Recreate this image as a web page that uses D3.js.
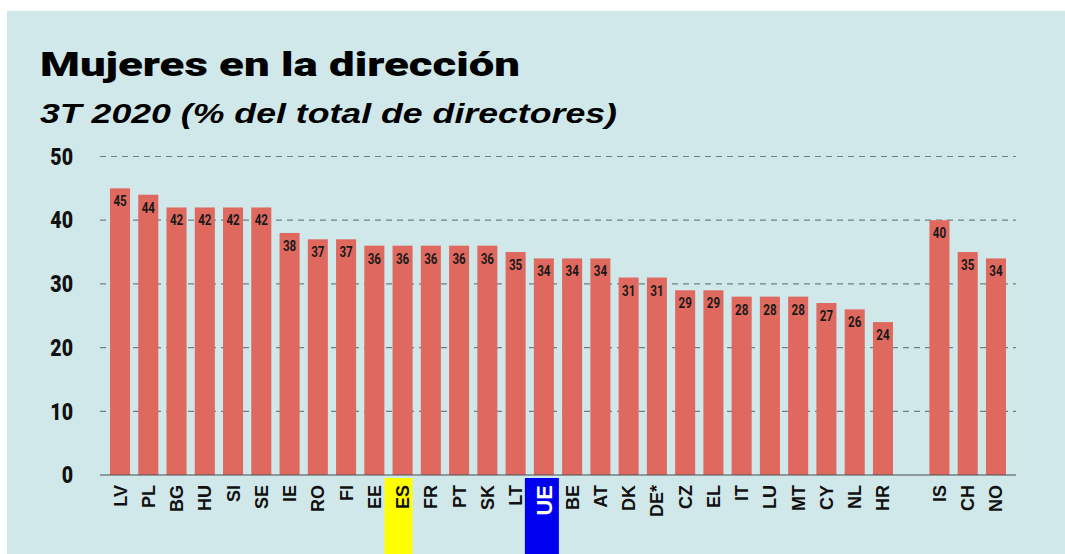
<!DOCTYPE html>
<html>
<head>
<meta charset="utf-8">
<script src="https://cdn.jsdelivr.net/npm/d3@7"></script>
<style>
  html, body { margin: 0; padding: 0; background: #fff; }
  svg { display: block; }
</style>
</head>
<body>
<svg id="chart" width="1065" height="554"></svg>
<script>
  // datos
  const countries = ["LV","PL","BG","HU","SI","SE","IE","RO","FI","EE","ES","FR","PT","SK","LT","UE",
                     "BE","AT","DK","DE*","CZ","EL","IT","LU","MT","CY","NL","HR","","IS","CH","NO"]
  const values = [45,44,42,42,42,42,38,37,37,36,36,36,36,36,35,34,
                  34,34,31,31,29,29,28,28,28,27,26,24,null,40,35,34]
  const yTicks = [0,10,20,30,40,50]
  const highlights = { "ES": "#ffff00", "UE": "#0000f0" }

  const title = "Mujeres en la dirección"
  const subtitle = "3T 2020 (% del total de directores)"

  const width = 1065, height = 554
  const margin = { top: 156.5, right: 49, bottom: 79, left: 100 }
  const innerWidth = width - margin.left - margin.right
  const innerHeight = height - margin.top - margin.bottom

  const narrow = "Roboto, 'DejaVu Sans', sans-serif"
  const arial = "'Liberation Sans', Arial, sans-serif"

  const svg = d3.select("#chart")

  svg.append("rect")
     .attr("x", 7).attr("y", 11)
     .attr("width", width - 7).attr("height", height - 11)
     .attr("fill", "#d1e8ea")

  svg.append("text")
     .attr("x", 40).attr("y", 76)
     .attr("font-family", narrow)
     .attr("font-weight", 900)
     .attr("font-size", 34)
     .attr("textLength", 480)
     .attr("lengthAdjust", "spacingAndGlyphs")
     .attr("fill", "#000")
     .text(title)

  svg.append("text")
     .attr("x", 40).attr("y", 123)
     .attr("font-family", arial)
     .attr("font-weight", "bold")
     .attr("font-style", "italic")
     .attr("font-size", 28)
     .attr("textLength", 577)
     .attr("lengthAdjust", "spacingAndGlyphs")
     .attr("fill", "#000")
     .text(subtitle)

  let xScale = d3.scaleBand().domain(countries).range([0, innerWidth])
                 .paddingInner(0.29).paddingOuter(0.354)
  let yScale = d3.scaleLinear().domain([0, 50]).range([innerHeight, 0])

  const g = svg.append("g").attr("transform", `translate(${margin.left}, ${margin.top})`)

  // fondos destacados bajo las etiquetas
  const hl = countries.filter(c => highlights[c])
  g.selectAll("rect.hl").data(hl).join("rect")
   .attr("class", "hl")
   .attr("x", c => xScale(c) + xScale.bandwidth() / 2 - (c == "UE" ? 19 : 18))
   .attr("y", innerHeight + 3)
   .attr("width", c => c == "UE" ? 34 : 28)
   .attr("height", height - margin.top - innerHeight - 3)
   .attr("fill", c => highlights[c])

  // rejilla
  g.selectAll("line.grid").data(yTicks.filter(d => d > 0)).join("line")
   .attr("class", "grid")
   .attr("x1", 0).attr("x2", innerWidth)
   .attr("y1", d => yScale(d)).attr("y2", d => yScale(d))
   .attr("stroke", "#6e7f84")
   .attr("stroke-width", 1.2)
   .attr("stroke-dasharray", "6,5")

  g.selectAll("text.ytick").data(yTicks).join("text")
   .attr("class", "ytick")
   .attr("transform", d => `translate(-27, ${yScale(d)}) scale(0.85, 1)`)
   .attr("text-anchor", "end")
   .attr("dy", "0.36em")
   .attr("font-family", narrow)
   .attr("font-weight", 900)
   .attr("font-size", 23)
   .attr("fill", "#111")
   .text(d => d)

  const data = countries.map((c, i) => ({ c: c, v: values[i] })).filter(d => d.v != null)

  g.selectAll("rect.bar").data(data).join("rect")
   .attr("class", "bar")
   .attr("x", d => xScale(d.c))
   .attr("y", d => yScale(d.v))
   .attr("width", xScale.bandwidth())
   .attr("height", d => innerHeight - yScale(d.v))
   .attr("fill", "#e0695f")

  g.selectAll("text.val").data(data).join("text")
   .attr("class", "val")
   .attr("transform", d => `translate(${xScale(d.c) + xScale.bandwidth() / 2}, ${yScale(d.v) + 18}) scale(0.8, 1)`)
   .attr("text-anchor", "middle")
   .attr("font-family", narrow)
   .attr("font-weight", "bold")
   .attr("font-size", 14.5)
   .attr("fill", "#1a1a1a")
   .text(d => d.v)

  g.append("line")
   .attr("x1", 0).attr("x2", innerWidth)
   .attr("y1", innerHeight).attr("y2", innerHeight)
   .attr("stroke", "#4a4f52")
   .attr("stroke-width", 1.2)

  g.selectAll("text.cat").data(data).join("text")
   .attr("class", "cat")
   .attr("transform", d => `translate(${xScale(d.c) + xScale.bandwidth() / 2}, ${innerHeight + 10}) rotate(-90)`)
   .attr("text-anchor", "end")
   .attr("dy", "0.36em")
   .attr("font-family", arial)
   .attr("font-weight", "bold")
   .attr("font-size", d => d.c == "UE" ? 22 : 18)
   .attr("fill", d => d.c == "UE" ? "#fff" : "#111")
   .text(d => d.c)
</script>
</body>
</html>
